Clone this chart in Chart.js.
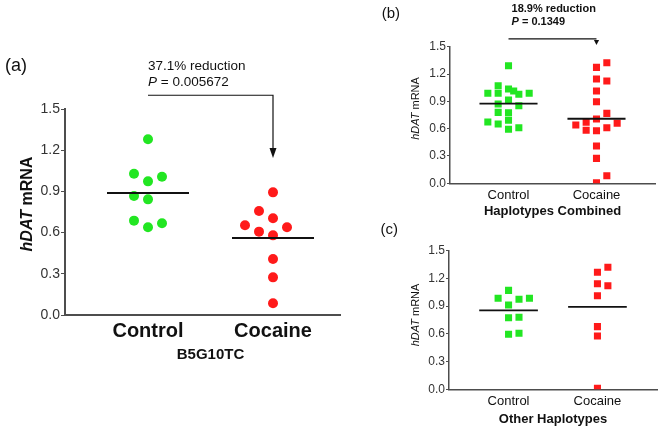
<!doctype html>
<html lang="en">
  <head>
    <meta charset="utf-8" />
    <title>hDAT mRNA</title>
    <script src="https://cdn.jsdelivr.net/npm/chart.js/dist/chart.umd.min.js"></script>
    <style>
      html, body { margin: 0; padding: 0; background: #fff; }
      body { position: relative; width: 663px; height: 431px; overflow: hidden; }
      canvas { position: absolute; }
    </style>
  </head>
  <body>
    <canvas id="chartA" width="345" height="431" style="left: 0; top: 0"></canvas>
    <canvas id="chartB" width="318" height="220" style="left: 345px; top: 0"></canvas>
    <canvas id="chartC" width="318" height="211" style="left: 345px; top: 220px"></canvas>

    <script>
      // data
      const categories = ["Control", "Cocaine"];
      const yTickValues = [0, 0.3, 0.6, 0.9, 1.2, 1.5];

      // (a) B5G10TC
      const b5Control = [1.28, 0.973, 0.842, 0.639, 1.029, 1.007, 0.867, 0.687, 0.668];
      const b5Cocaine = [0.893, 0.704, 0.58, 0.408, 0.274, 0.085, 0.607, 0.757, 0.639, 0.653];
      const b5Reduction = ["37.1% reduction", "0.005672"];

      // (b) haplotypes combined
      const combControl = [1.291, 1.035, 0.914, 0.775, 0.593, 1.071, 0.988, 0.779, 0.651,
        0.977, 0.852, 0.61, 0.988, 0.988, 0.87, 0.692, 0.673, 1.013];
      const combCocaine = [1.273, 1.145, 1.013, 0.896, 0.706, 0.577, 0.409, 0.274, 0.007,
        1.324, 1.123, 0.768, 0.61, 0.083, 0.67, 0.582, 0.659, 0.64];
      const combReduction = ["18.9% reduction", "0.1349"];

      // (c) other haplotypes
      const otherControl = [1.071, 0.912, 0.775, 0.595, 0.974, 0.985, 0.985, 0.779, 0.606];
      const otherCocaine = [1.266, 1.143, 1.013, 0.577, 0.01, 1.32, 1.121, 0.678];

      const GREEN = "#22e622";
      const RED = "#ff1a1a";
      const FONT = "'Liberation Sans', Arial, Helvetica, sans-serif";
      const SPREAD = 0.078; // values closer than this share no column

      Chart.defaults.font.family = FONT;

      // GraphPad-like column scatter: push colliding points sideways
      function swarm(values, center, step, side) {
        const slots = [0, side, -side, 2 * side, -2 * side, -0.5 * side, 0.5 * side, 3 * side, -3 * side];
        const placed = [];
        return values.map((v) => {
          let s = slots.find((k) => !placed.some((p) => p.s === k && Math.abs(p.v - v) < SPREAD));
          if (s === undefined) s = 0;
          placed.push({ s, v });
          return { x: center + s * step, y: v };
        });
      }

      function mean(arr) {
        return arr.reduce((a, b) => a + b, 0) / arr.length;
      }

      function meanLine(values, center, half) {
        const m = mean(values);
        return {
          type: "line",
          data: [{ x: center - half, y: m }, { x: center + half, y: m }],
          borderColor: "#111",
          borderWidth: 2,
          pointRadius: 0,
        };
      }

      function drawParts(ctx, parts, x, y, align, rotate) {
        ctx.save();
        ctx.translate(x, y);
        if (rotate) ctx.rotate(-Math.PI / 2);
        let total = 0;
        parts.forEach((p) => {
          ctx.font = p.font;
          p.w = ctx.measureText(p.text).width;
          total += p.w;
        });
        let cx = align === "center" ? -total / 2 : 0;
        ctx.textAlign = "left";
        ctx.textBaseline = "middle";
        parts.forEach((p) => {
          ctx.font = p.font;
          ctx.fillText(p.text, cx, 0);
          cx += p.w;
        });
        ctx.restore();
      }

      const panelText = {
        id: "panelText",
        afterDraw(chart, args, o) {
          const { ctx, scales: { x, y } } = chart;
          const x1 = x.getPixelForValue(1);
          const x2 = x.getPixelForValue(2);
          ctx.save();
          ctx.fillStyle = "#111";
          ctx.strokeStyle = "#111";

          ctx.font = o.letterFont;
          ctx.textAlign = o.letterAlign;
          ctx.textBaseline = "middle";
          ctx.fillText(o.letter, o.letterX, o.letterY);

          drawParts(ctx, [
            { text: "hDAT", font: "italic " + o.yTitleFont },
            { text: " mRNA", font: o.yTitleFont },
          ], o.yTitleX, o.yTitleY, "center", true);

          ctx.font = o.groupFont;
          ctx.textAlign = "center";
          ctx.textBaseline = "middle";
          ctx.fillText(o.group, (x1 + x2) / 2, o.groupY);

          if (o.reduction) {
            const yb = y.getPixelForValue(o.bracketValue);
            const tip = y.getPixelForValue(o.tipValue);
            drawParts(ctx, [{ text: o.reduction[0], font: o.noteFont }], x1 + o.noteDx, yb - o.noteGap1, "left", false);
            drawParts(ctx, [
              { text: "P", font: "italic " + o.noteFont },
              { text: " = " + o.reduction[1], font: o.noteFont },
            ], x1 + o.noteDx, yb - o.noteGap2, "left", false);

            ctx.lineWidth = 1.2;
            ctx.beginPath();
            ctx.moveTo(x1, yb);
            ctx.lineTo(x2, yb);
            if (o.drop) ctx.lineTo(x2, tip - o.headLen);
            ctx.stroke();
            ctx.beginPath();
            ctx.moveTo(x2 - o.headHalf, tip - o.headLen);
            ctx.lineTo(x2 + o.headHalf, tip - o.headLen);
            ctx.lineTo(x2, tip);
            ctx.closePath();
            ctx.fill();
          }
          ctx.restore();
        },
      };

      function makePanel(id, p) {
        const datasets = [
          meanLine(p.control, 1, p.half),
          meanLine(p.cocaine, 2, p.half),
          {
            data: swarm(p.control, 1, p.step, p.sides[0]),
            backgroundColor: GREEN,
            borderWidth: 0,
            pointStyle: p.marker,
            pointRadius: 5,
          },
          {
            data: swarm(p.cocaine, 2, p.step, p.sides[1]),
            backgroundColor: RED,
            borderWidth: 0,
            pointStyle: p.marker,
            pointRadius: 5,
          },
        ];
        datasets[0].borderWidth = p.meanWidth;
        datasets[1].borderWidth = p.meanWidth;

        return new Chart(document.getElementById(id), {
          type: "scatter",
          data: { datasets },
          options: {
            responsive: false,
            animation: false,
            devicePixelRatio: 1,
            layout: {
              padding: { left: 0, top: p.area.top, right: p.w - p.area.right, bottom: 0 },
            },
            plugins: {
              legend: { display: false },
              tooltip: { enabled: false },
              panelText: p.text,
            },
            scales: {
              x: {
                type: "linear",
                min: p.xRange[0],
                max: p.xRange[1],
                grid: { display: false, drawTicks: false },
                border: { color: "#4d4d4d", width: p.axisWidth },
                afterBuildTicks: (s) => {
                  s.ticks = categories.map((c, i) => ({ value: i + 1 }));
                },
                afterFit: (s) => {
                  s.height = p.h - p.area.bottom;
                },
                ticks: {
                  callback: (v) => categories[Math.round(v) - 1],
                  font: p.xTickFont,
                  color: "#111",
                  padding: p.xTickPad,
                  maxRotation: 0,
                  autoSkip: false,
                },
              },
              y: {
                min: 0,
                max: 1.5,
                afterBuildTicks: (s) => {
                  s.ticks = yTickValues.map((v) => ({ value: v }));
                },
                afterFit: (s) => {
                  s.width = p.area.left;
                },
                grid: {
                  drawOnChartArea: false,
                  tickLength: p.tickLen,
                  color: "#4d4d4d",
                  lineWidth: 1,
                },
                border: { color: "#4d4d4d", width: p.axisWidth },
                ticks: {
                  callback: (v) => v.toFixed(1),
                  font: p.yTickFont,
                  color: "#333",
                  padding: 1,
                },
              },
            },
          },
          plugins: [panelText],
        });
      }

      makePanel("chartA", {
        w: 345, h: 431,
        area: { left: 65, right: 340, top: 109, bottom: 315 },
        xRange: [0.336, 2.536],
        control: b5Control, cocaine: b5Cocaine,
        sides: [-1, -1], step: 0.112, half: 0.328,
        marker: "circle", meanWidth: 2, axisWidth: 2, tickLen: 4,
        xTickFont: { size: 20, weight: "bold" }, xTickPad: 4,
        yTickFont: { size: 14 },
        text: {
          letter: "(a)", letterFont: "18px " + FONT, letterAlign: "left", letterX: 5, letterY: 66.5,
          yTitleFont: "bold 16px " + FONT, yTitleX: 27.5, yTitleY: 204,
          group: "B5G10TC", groupFont: "bold 15px " + FONT, groupY: 355,
          reduction: b5Reduction, noteFont: "13.5px " + FONT, noteDx: 0, noteGap1: 29.3, noteGap2: 12.6,
          bracketValue: 1.6, tipValue: 1.143, drop: true, headLen: 10, headHalf: 3.5,
        },
      });

      makePanel("chartB", {
        w: 318, h: 220,
        area: { left: 105, right: 310, top: 46.7, bottom: 183.3 },
        xRange: [0.335, 2.665],
        control: combControl, cocaine: combCocaine,
        sides: [-1, 1], step: 0.1175, half: 0.33,
        marker: "rect", meanWidth: 1.8, axisWidth: 1.5, tickLen: 3,
        xTickFont: { size: 13 }, xTickPad: 4,
        yTickFont: { size: 12 },
        text: {
          letter: "(b)", letterFont: "15px " + FONT, letterAlign: "right", letterX: 55, letterY: 13.5,
          yTitleFont: "11px " + FONT, yTitleX: 71, yTitleY: 108.5,
          group: "Haplotypes Combined", groupFont: "bold 13px " + FONT, groupY: 211.7,
          reduction: combReduction, noteFont: "bold 11px " + FONT, noteDx: 3, noteGap1: 29.7, noteGap2: 16.5,
          bracketValue: 1.585, tipValue: 1.518, drop: false, headLen: 5, headHalf: 2.6,
        },
      });

      makePanel("chartC", {
        w: 318, h: 211,
        area: { left: 104, right: 312, top: 30.7, bottom: 169.3 },
        xRange: [0.33, 2.67],
        control: otherControl, cocaine: otherCocaine,
        sides: [1, 1], step: 0.1175, half: 0.33,
        marker: "rect", meanWidth: 1.8, axisWidth: 1.5, tickLen: 3,
        xTickFont: { size: 13 }, xTickPad: 4,
        yTickFont: { size: 12 },
        text: {
          letter: "(c)", letterFont: "15px " + FONT, letterAlign: "right", letterX: 53, letterY: 10,
          yTitleFont: "11px " + FONT, yTitleX: 71, yTitleY: 95,
          group: "Other Haplotypes", groupFont: "bold 13px " + FONT, groupY: 199.3,
        },
      });
    </script>
  </body>
</html>
